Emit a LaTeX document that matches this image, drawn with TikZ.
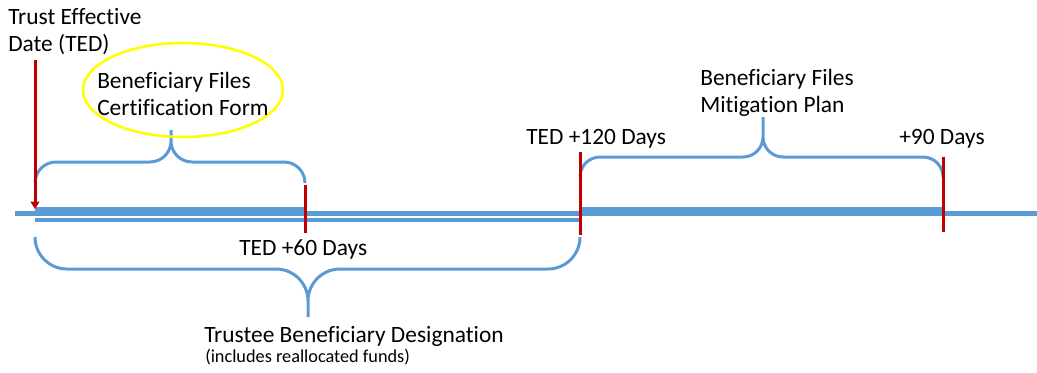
\documentclass[tikz,border=0pt]{standalone}
\usepackage{fontspec}
\setmainfont{Carlito}[Ligatures=NoCommon]
\usetikzlibrary{arrows.meta}
\definecolor{tlblue}{RGB}{91,155,213}
\definecolor{tlred}{RGB}{192,0,0}
\definecolor{tlyellow}{RGB}{255,255,0}
\tikzset{
  lbl/.style={anchor=base west, inner sep=0pt, align=left, font=\fontsize{17.55}{20.25}\selectfont},
  smalllbl/.style={anchor=base west, inner sep=0pt, font=\fontsize{13.7}{16}\selectfont},
  mainline/.style={draw=tlblue, line width=3.75pt},
  thickbar/.style={draw=tlblue, line width=6.75pt},
  thinbar/.style={draw=tlblue, line width=2.6pt},
  bracepath/.style={draw=tlblue, line width=2.25pt, line join=miter},
  redmark/.style={draw=tlred, line width=2.25pt},
  hilite/.style={draw=tlyellow, line width=1.9pt}
}
\begin{document}
\begin{tikzpicture}[x=0.75pt,y=-0.75pt]
\useasboundingbox (0,0) rectangle (1037,372);

% timeline bars
\draw[mainline] (15,213.5) -- (1037,213.5);
\draw[thickbar] (35,211.5) -- (305,211.5);
\draw[thickbar] (580,211.5) -- (943,211.5);
\draw[thinbar] (35,220) -- (580,220);

% top-left brace
\draw[bracepath] (35,183) .. controls (35,171.4) and (44.4,162) .. (56,162) -- (150,162)
  .. controls (161.6,162) and (171,152.6) .. (171,141) -- (171,130) -- (171,141)
  .. controls (171,152.6) and (180.4,162) .. (192,162) -- (284,162)
  .. controls (295.6,162) and (305,171.4) .. (305,183);

% right brace
\draw[bracepath] (580,177) .. controls (580,166) and (589,157) .. (600,157) -- (743,157)
  .. controls (754,157) and (763,148) .. (763,137) -- (763,117) -- (763,137)
  .. controls (763,148) and (772,157) .. (783,157) -- (923,157)
  .. controls (934,157) and (943,166) .. (943,177);

% bottom brace
\draw[bracepath] (35,237) .. controls (35,254.7) and (49.3,269) .. (67,269) -- (276,269)
  .. controls (293.7,269) and (308,283.3) .. (308,301) -- (308,317) -- (308,301)
  .. controls (308,283.3) and (322.3,269) .. (340,269) -- (548,269)
  .. controls (565.7,269) and (580,254.7) .. (580,237);

% red markers
\draw[redmark, -{Triangle[width=6.5pt,length=5.5pt]}] (35,60) -- (35,209);
\draw[redmark] (305,185) -- (305,233);
\draw[redmark] (580,152) -- (580,235);
\draw[redmark] (943,157) -- (943,232);

% highlight ellipse
\draw[hilite] (183,90) ellipse [x radius=75pt, y radius=35.25pt];

% labels
\node[lbl] (ted) at (8,51) {Trust Effective\\Date (TED)};
\node[lbl] (cert) at (97,115) {Beneficiary Files\\Certification Form};
\node[lbl] (miti) at (700,112) {Beneficiary Files\\Mitigation Plan};
\node[lbl] (d120) at (526,144) {TED +120 Days};
\node[lbl] (d90) at (899,144) {+90 Days};
\node[lbl] (d60) at (239,255) {TED +60 Days};
\node[lbl] (trustee) at (204,342) {Trustee Beneficiary Designation};
\node[smalllbl] (realloc) at (205,362) {(includes reallocated funds)};
\end{tikzpicture}
\end{document}
